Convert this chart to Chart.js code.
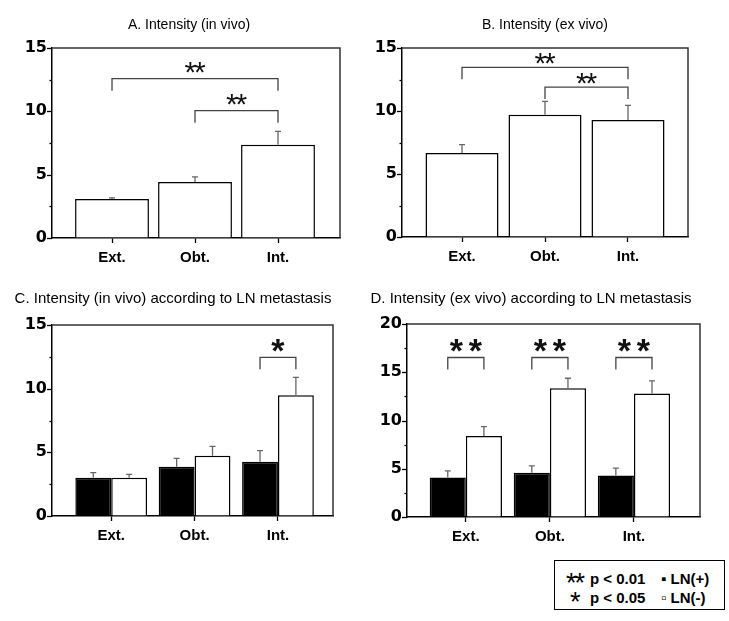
<!DOCTYPE html>
<html>
<head>
<meta charset="utf-8">
<script src="https://cdn.jsdelivr.net/npm/chart.js@4/dist/chart.umd.min.js"></script>
<style>
  html, body { margin: 0; padding: 0; background: #fff; }
  body { width: 729px; height: 621px; position: relative; overflow: hidden; font-family: 'Liberation Sans', Arial, Helvetica, sans-serif; }
  canvas { position: absolute; }
  #legendBox { position: absolute; left: 554px; top: 560px; width: 171px; height: 50px; box-sizing: border-box; border: 1.5px solid #000; }
  #legendBox span { position: absolute; line-height: 1; transform: translateY(-50%); white-space: nowrap; color: #000; font-weight: bold; font-size: 15px; }
  #legendBox span.star { font-size: 27px; font-weight: normal; letter-spacing: -2px; }
</style>
</head>
<body>
<canvas id="cA" width="365" height="290" style="left:0px;top:0px;"></canvas>
<canvas id="cB" width="364" height="290" style="left:365px;top:0px;"></canvas>
<canvas id="cC" width="365" height="270" style="left:0px;top:290px;"></canvas>
<canvas id="cD" width="364" height="270" style="left:365px;top:290px;"></canvas>
<div id="legendBox">
  <span class="star" style="left:11px;top:22px;">**</span>
  <span style="left:35px;top:17px;">p &lt; 0.01</span>
  <span style="left:106px;top:17px;">&#9642; LN(+)</span>
  <span class="star" style="left:15px;top:41px;">*</span>
  <span style="left:35px;top:36px;">p &lt; 0.05</span>
  <span style="left:106px;top:36px;">&#9643; LN(-)</span>
</div>
<script>
// ---------------- data ----------------
const categories = ['Ext.', 'Obt.', 'Int.'];

const inVivoMean = [3.08, 4.42, 7.36];
const inVivoErr  = [0.08, 0.40, 1.05];

const exVivoMean = [6.67, 9.71, 9.29];
const exVivoErr  = [0.66, 1.06, 1.16];

const inVivoLNpos    = [3.01, 3.87, 4.27];
const inVivoLNposErr = [0.39, 0.66, 0.86];
const inVivoLNneg    = [3.01, 4.74, 9.48];
const inVivoLNnegErr = [0.26, 0.73, 1.41];

const exVivoLNpos    = [4.09, 4.58, 4.30];
const exVivoLNposErr = [0.69, 0.72, 0.76];
const exVivoLNneg    = [8.39, 13.34, 12.79];
const exVivoLNnegErr = [0.97, 1.04, 1.32];

const yLabelStep = 5;     // labelled ticks
const yMinorStep = 2.5;   // tick marks

// significance brackets: [datasetA, categoryA, datasetB, categoryB, bracketValue, mark]
const sigA = [[0, 0, 0, 2, 12.58, '**'], [0, 1, 0, 2, 10.05, '**']];
const sigB = [[0, 0, 0, 2, 13.47, '**'], [0, 1, 0, 2, 11.9, '**']];
const sigC = [[0, 2, 1, 2, 12.46, '*']];
const sigD = [[0, 0, 1, 0, 16.53, '**'], [0, 1, 1, 1, 16.53, '**'], [0, 2, 1, 2, 16.53, '**']];

const titles = [
  'A. Intensity (in vivo)',
  'B. Intensity (ex vivo)',
  'C. Intensity (in vivo) according to LN metastasis',
  'D. Intensity (ex vivo) according to LN metastasis'
];

// ---------------- drawing ----------------
const FONT = "'Liberation Sans', Arial, Helvetica, sans-serif";
const NUMFONT = "'DejaVu Sans', 'Liberation Sans', Arial, sans-serif";

const decorPlugin = {
  id: 'decor',
  afterDatasetsDraw(chart, args, o) {
    const ctx = chart.ctx;
    const { left, right, top, bottom } = chart.chartArea;
    const ys = chart.scales.y;
    ctx.save();
    // title
    ctx.fillStyle = '#000';
    ctx.font = o.titleSize + 'px ' + FONT;
    ctx.textAlign = 'center';
    ctx.textBaseline = 'middle';
    ctx.fillText(o.title, o.titleX, o.titleY);
    // frame (top + right)
    ctx.strokeStyle = '#333';
    ctx.lineWidth = 1.5;
    ctx.beginPath();
    ctx.moveTo(left, top);
    ctx.lineTo(right, top);
    ctx.lineTo(right, bottom);
    ctx.stroke();
    // y tick marks (major longer than minor)
    ctx.strokeStyle = '#000';
    ctx.lineWidth = 1.3;
    ys.ticks.forEach(t => {
      const py = Math.round(ys.getPixelForValue(t.value)) + 0.5;
      const len = (t.value % yLabelStep === 0) ? 5 : 2.5;
      ctx.beginPath();
      ctx.moveTo(left - len, py);
      ctx.lineTo(left, py);
      ctx.stroke();
    });
    // error bars
    chart.data.datasets.forEach((ds, di) => {
      const meta = chart.getDatasetMeta(di);
      meta.data.forEach((bar, i) => {
        const v = ds.data[i], e = ds.errors[i];
        const y1 = ys.getPixelForValue(v);
        const y2 = ys.getPixelForValue(v + e);
        ctx.strokeStyle = '#666';
        ctx.lineWidth = 1.3;
        ctx.beginPath();
        ctx.moveTo(bar.x, y1);
        ctx.lineTo(bar.x, y2);
        ctx.moveTo(bar.x - 3, y2);
        ctx.lineTo(bar.x + 3, y2);
        ctx.stroke();
      });
    });
    // significance brackets
    (o.sig || []).forEach(s => {
      const xa = chart.getDatasetMeta(s[0]).data[s[1]].x;
      const xb = chart.getDatasetMeta(s[2]).data[s[3]].x;
      const yb = ys.getPixelForValue(s[4]);
      ctx.strokeStyle = '#444';
      ctx.lineWidth = 1.3;
      ctx.beginPath();
      ctx.moveTo(xa, yb + o.leg);
      ctx.lineTo(xa, yb);
      ctx.lineTo(xb, yb);
      ctx.lineTo(xb, yb + o.leg);
      ctx.stroke();
      const chars = s[5].split('');
      const cx = (xa + xb) / 2;
      const cy = yb - o.textGap;
      ctx.fillStyle = '#111';
      ctx.font = o.starWeight + ' ' + o.starSize + 'px ' + FONT;
      ctx.textAlign = 'center';
      ctx.textBaseline = 'alphabetic';
      chars.forEach((c, k) => {
        const x = cx + (k - (chars.length - 1) / 2) * o.starGap;
        ctx.fillText(c, x, cy + o.starSize * 0.45);
      });
    });
    ctx.restore();
  }
};

function makePanel(id, g) {
  const datasets = g.series.map(s => ({
    data: s.data,
    errors: s.err,
    backgroundColor: s.fill,
    borderColor: '#000',
    borderWidth: 1.5,
    categoryPercentage: g.catPct,
    barPercentage: 1.0
  }));
  return new Chart(document.getElementById(id), {
    type: 'bar',
    data: { labels: categories, datasets },
    options: {
      responsive: false,
      animation: false,
      devicePixelRatio: 1,
      layout: { padding: { left: 0, right: g.padR, top: g.padT, bottom: 0 } },
      plugins: {
        legend: { display: false },
        tooltip: { enabled: false },
        title: { display: false },
        decor: {
          title: g.title, titleSize: g.titleSize, titleX: g.titleX, titleY: g.titleY,
          sig: g.sig, leg: 12, textGap: g.textGap, starSize: g.starSize, starGap: g.starGap, starWeight: g.starWeight
        }
      },
      scales: {
        x: {
          type: 'category',
          offset: true,
          grid: { display: true, drawOnChartArea: false, drawTicks: true, tickLength: 5, offset: false, color: '#000', tickWidth: 1.3 },
          border: { display: true, color: '#000', width: 1.5 },
          ticks: { color: '#000', padding: 6, font: { family: FONT, size: 15, weight: 'bold' } },
          afterBuildTicks: s => { s._startValue = -g.offL; s._valueRange = (categories.length - 1) + g.offL + g.offR; },
          afterFit: s => { s.height = g.xHeight; }
        },
        y: {
          min: 0,
          max: g.yMax,
          grid: { display: true, drawOnChartArea: false, drawTicks: false },
          border: { display: true, color: '#000', width: 1.5 },
          ticks: {
            stepSize: yMinorStep,
            autoSkip: false,
            padding: 5,
            color: '#000',
            font: { family: NUMFONT, size: 16, weight: 'bold' },
            callback: v => (v % yLabelStep === 0 ? String(v) : '')
          },
          afterFit: s => { s.width = g.yWidth; }
        }
      }
    },
    plugins: [decorPlugin]
  });
}

makePanel('cA', {
  title: titles[0], titleSize: 14, titleX: 189, titleY: 25,
  padT: 48, padR: 25, yWidth: 52, xHeight: 52, yMax: 15,
  offL: 0.723, offR: 0.747, catPct: 0.89,
  series: [{ data: inVivoMean, err: inVivoErr, fill: '#fff' }],
  sig: sigA, textGap: 10, starSize: 30, starGap: 9.5, starWeight: 'normal'
});
makePanel('cB', {
  title: titles[1], titleSize: 14, titleX: 180, titleY: 25,
  padT: 48, padR: 41, yWidth: 37, xHeight: 53, yMax: 15,
  offL: 0.723, offR: 0.723, catPct: 0.88,
  series: [{ data: exVivoMean, err: exVivoErr, fill: '#fff' }],
  sig: sigB, textGap: 7.5, starSize: 30, starGap: 9.5, starWeight: 'normal'
});
makePanel('cC', {
  title: titles[2], titleSize: 15, titleX: 173, titleY: 9,
  padT: 35, padR: 32, yWidth: 52, xHeight: 44, yMax: 15,
  offL: 0.71, offR: 0.66, catPct: 0.86,
  series: [
    { data: inVivoLNpos, err: inVivoLNposErr, fill: '#000' },
    { data: inVivoLNneg, err: inVivoLNnegErr, fill: '#fff' }
  ],
  sig: sigC, textGap: 11, starSize: 34, starGap: 19, starWeight: 'bold'
});
makePanel('cD', {
  title: titles[3], titleSize: 15, titleX: 166, titleY: 9,
  padT: 34, padR: 29, yWidth: 42, xHeight: 43, yMax: 20,
  offL: 0.70, offR: 0.786, catPct: 0.86,
  series: [
    { data: exVivoLNpos, err: exVivoLNposErr, fill: '#000' },
    { data: exVivoLNneg, err: exVivoLNnegErr, fill: '#fff' }
  ],
  sig: sigD, textGap: 11, starSize: 34, starGap: 19, starWeight: 'bold'
});
</script>
</body>
</html>
